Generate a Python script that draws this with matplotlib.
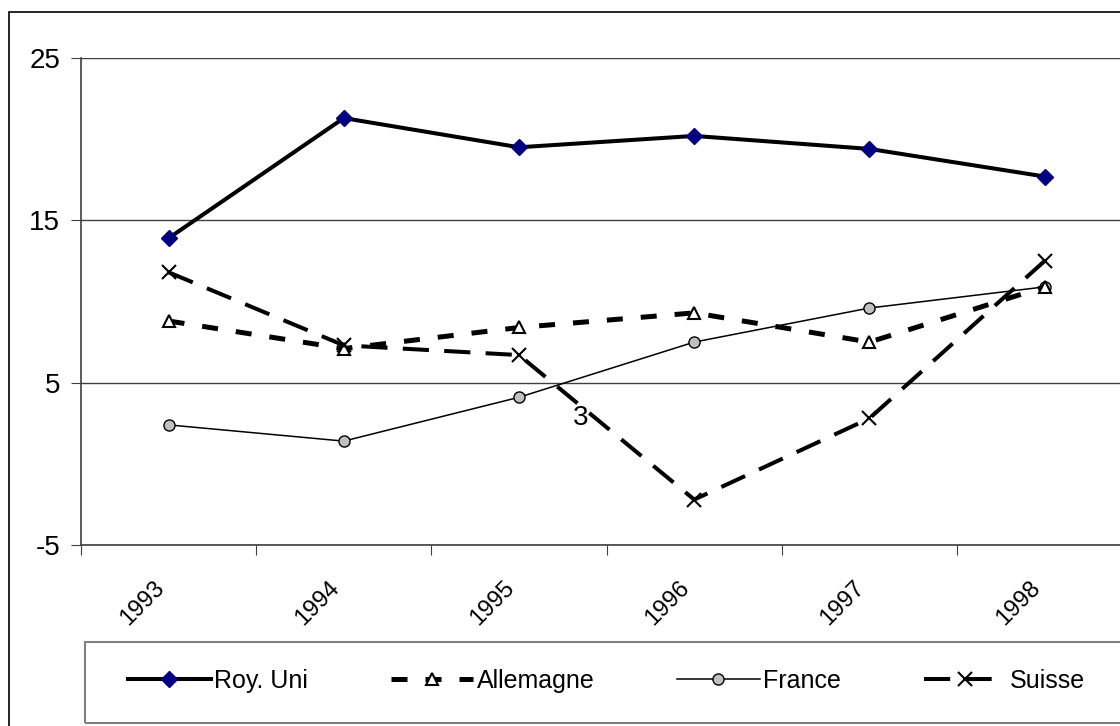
import matplotlib
matplotlib.use('Agg')
import matplotlib.pyplot as plt
from matplotlib.patches import Rectangle
from matplotlib.transforms import ScaledTranslation

plt.rcParams['font.family'] = ['Liberation Sans', 'DejaVu Sans']
plt.rcParams['axes.unicode_minus'] = False

years = ['1993', '1994', '1995', '1996', '1997', '1998']
roy_uni = [13.9, 21.3, 19.5, 20.2, 19.4, 17.7]
allemagne = [8.8, 7.1, 8.4, 9.3, 7.5, 10.9]
france = [2.4, 1.4, 4.1, 7.5, 9.6, 10.9]
suisse = [11.8, 7.3, 6.7, -2.2, 2.8, 12.5]

fig = plt.figure(figsize=(11.2, 7.26), dpi=100)
ax = fig.add_axes([0.0723, 0.2493, 0.9277, 0.6708])

x = range(len(years))
ax.plot(x, roy_uni, color='black', lw=2.9, marker='D', ms=8,
        mfc='#000080', mec='#000080', label='Roy. Uni', zorder=5)
ax.plot(x, allemagne, color='black', lw=3.6, ls=(0, (3.2, 3.6)), marker='^', ms=9,
        mfc='white', mec='black', mew=1.5, label='Allemagne', zorder=4)
ax.plot(x, france, color='black', lw=1.1, marker='o', ms=8,
        mfc='#c0c0c0', mec='black', mew=1.0, label='France', zorder=3)
ax.plot(x, suisse, color='black', lw=2.9, ls=(0, (6.5, 3.8)), marker='x', ms=10,
        mew=1.5, mec='black', label='Suisse', zorder=4)

# stray label in the original
ax.text(2.35, 2.8, '3', fontsize=20, ha='center', va='center', zorder=6)

ax.set_ylim(-5, 25)
ax.set_yticks([-5, 5, 15, 25])
ax.set_xlim(-0.5, 5.43)
ax.set_xticks([i - 0.5 for i in range(len(years))])
ax.set_xticklabels([])
ax.set_xticks(list(x), minor=True)
ax.set_xticklabels(years, minor=True, rotation=45, ha='right', va='top', fontsize=17)
shift = ScaledTranslation(-0.10, 0, fig.dpi_scale_trans)
for lab in ax.get_xticklabels(minor=True):
    lab.set_transform(lab.get_transform() + shift)
ax.tick_params(axis='x', which='minor', length=0, pad=23)
ax.tick_params(axis='x', which='major', length=7, color='#404040', direction='out')
ax.tick_params(axis='y', length=7, color='#404040', labelsize=20, pad=8)

ax.grid(axis='y', color='#404040', lw=1)
ax.set_axisbelow(True)
for s in ['top', 'right']:
    ax.spines[s].set_visible(False)
for s in ['left', 'bottom']:
    ax.spines[s].set_color('#404040')
    ax.spines[s].set_linewidth(1.2)

# legend box, cut by the right edge like the original
fig.patches.append(Rectangle((85 / 1120, 3 / 726), 1.1, 81 / 726, transform=fig.transFigure,
                             fill=False, edgecolor='#808080', lw=1.5))
leg = fig.legend(loc='center left', bbox_to_anchor=(128 / 1120, 1 - 681 / 726),
                 ncol=4, fontsize=18, frameon=False, handlelength=3.3,
                 handletextpad=0.15, borderaxespad=0, borderpad=0, columnspacing=3.3)

fig.patches.append(Rectangle((0.008, -0.1), 1.2, 0.9835 + 0.1, transform=fig.transFigure,
                             fill=False, edgecolor='black', lw=1.2))

fig.savefig('out.png', dpi=100)
